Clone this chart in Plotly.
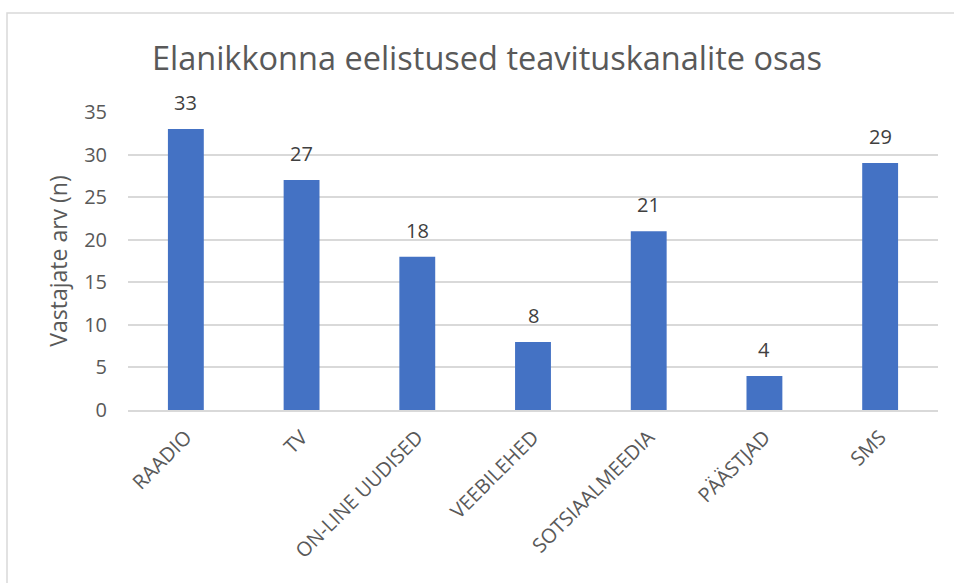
import plotly.graph_objects as go

# data
kanalid = ["RAADIO", "TV", "ON-LINE UUDISED", "VEEBILEHED",
           "SOTSIAALMEEDIA", "PÄÄSTJAD", "SMS"]
vastajad = [33, 27, 18, 8, 21, 4, 29]
y_ticks = [0, 5, 10, 15, 20, 25, 30, 35]

TEXT = "#595959"
GRID = "#d9d9d9"
FONT = "'Open Sans', sans-serif"

W, H = 954, 583
L, R, T, B = 128, 16, 112, 173
pw, ph = W - L - R, H - T - B

fig = go.Figure()
fig.add_trace(go.Bar(
    x=kanalid, y=vastajad,
    marker=dict(color="#4472c4", line=dict(width=0)),
))

# value labels above bars
for k, v in zip(kanalid, vastajad):
    fig.add_annotation(x=k, y=v, text=str(v), showarrow=False,
                       yanchor="bottom", yshift=11,
                       font=dict(size=20, color="#404040", family=FONT))

fig.update_layout(
    width=W, height=H,
    margin=dict(l=L, r=R, t=T, b=B, pad=0),
    paper_bgcolor="white", plot_bgcolor="white",
    font=dict(family=FONT, color=TEXT),
    bargap=0.69,
    showlegend=False,
    title=dict(text="Elanikkonna eelistused teavituskanalite osas",
               x=487 / W, xanchor="center",
               y=1 - 59 / H, yanchor="middle",
               font=dict(size=32.5, color=TEXT, family=FONT)),
    xaxis=dict(tickangle=-45, tickfont=dict(size=20, color=TEXT),
               showgrid=False, showline=True, linecolor=GRID, linewidth=1.5,
               ticks="", ticklabelstandoff=6, fixedrange=True,
               automargin=False),
    yaxis=dict(range=[0, 35], tickvals=y_ticks, showgrid=True,
               gridcolor=GRID, gridwidth=1.5, zeroline=False, showline=False,
               tickfont=dict(size=20, color=TEXT), ticklabelstandoff=20,
               title=dict(text="Vastajate arv (n)", standoff=10,
                          font=dict(size=23, color=TEXT)),
               fixedrange=True, automargin=False),
)

# chart area border
fig.add_shape(type="rect", xref="paper", yref="paper",
              x0=(7 - L) / pw, x1=(W + 10 - L) / pw,
              y0=-(H + 10 - (T + ph)) / ph, y1=(T + ph - 13) / ph,
              line=dict(color=GRID, width=1.5), layer="below")

fig.write_html("out.html", config={"displayModeBar": False},
               post_script="document.body.style.margin='0';")
